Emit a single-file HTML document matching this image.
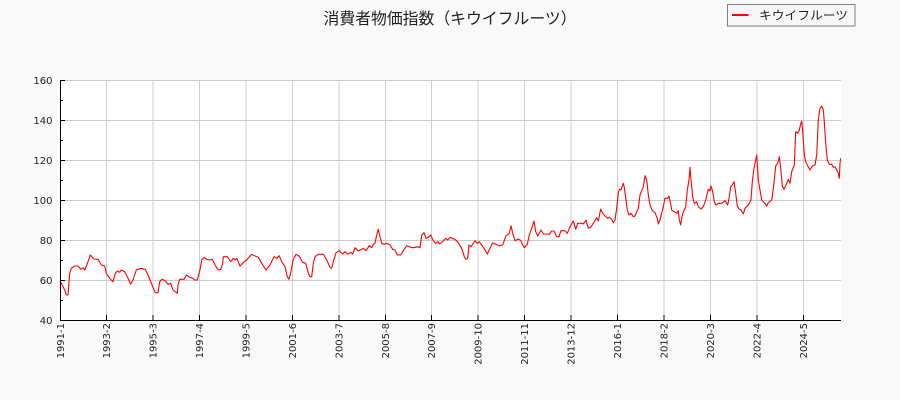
<!DOCTYPE html>
<html>
<head>
<meta charset="utf-8">
<style>
  html, body { margin: 0; padding: 0; background: #f9f9f9; }
  svg { display: block; }
  .tk { font-family: "DejaVu Sans", "Liberation Sans", sans-serif; font-size: 10px; fill: #222; }
  .ttl { font-family: "Liberation Sans", "Noto Sans CJK JP", sans-serif; font-size: 16px; fill: #222; }
  .lg { font-family: "Liberation Sans", "Noto Sans CJK JP", sans-serif; font-size: 12px; fill: #222; }
</style>
</head>
<body>
<svg width="900" height="400" viewBox="0 0 900 400" xmlns="http://www.w3.org/2000/svg">
  <rect x="0" y="0" width="900" height="400" fill="#f9f9f9"/>
  <!-- plot area -->
  <rect x="60" y="80" width="781" height="240" fill="#ffffff"/>

  <!-- horizontal gridlines -->
  <g stroke="#cccccc" stroke-width="1">
    <line x1="60" y1="80.5" x2="841" y2="80.5"/>
    <line x1="60" y1="120.5" x2="841" y2="120.5"/>
    <line x1="60" y1="160.5" x2="841" y2="160.5"/>
    <line x1="60" y1="200.5" x2="841" y2="200.5"/>
    <line x1="60" y1="240.5" x2="841" y2="240.5"/>
    <line x1="60" y1="280.5" x2="841" y2="280.5"/>
  </g>
  <!-- vertical gridlines -->
  <g stroke="#cccccc" stroke-width="1">
    <line x1="106.5" y1="80" x2="106.5" y2="320"/>
    <line x1="153" y1="80" x2="153" y2="320"/>
    <line x1="199.5" y1="80" x2="199.5" y2="320"/>
    <line x1="246" y1="80" x2="246" y2="320"/>
    <line x1="292.5" y1="80" x2="292.5" y2="320"/>
    <line x1="339" y1="80" x2="339" y2="320"/>
    <line x1="385.5" y1="80" x2="385.5" y2="320"/>
    <line x1="431.5" y1="80" x2="431.5" y2="320"/>
    <line x1="478" y1="80" x2="478" y2="320"/>
    <line x1="524.5" y1="80" x2="524.5" y2="320"/>
    <line x1="571" y1="80" x2="571" y2="320"/>
    <line x1="617.5" y1="80" x2="617.5" y2="320"/>
    <line x1="664" y1="80" x2="664" y2="320"/>
    <line x1="710.5" y1="80" x2="710.5" y2="320"/>
    <line x1="757" y1="80" x2="757" y2="320"/>
    <line x1="803.5" y1="80" x2="803.5" y2="320"/>
  </g>

  <!-- data series -->
  <polyline fill="none" stroke="#ff0000" stroke-width="1.1" stroke-linejoin="round" points="
60,281 61.3,283.3 64.7,290 66.3,295 68,295 69.7,273.3 71.3,268.3 74.7,266 78,266 80.7,269.3 83,267.7 84.7,270 88,261.7 90.3,255 94,259 98,259.3 101.3,265 104.7,266 106.3,273.3 109.7,278.3 113,281.7 115.3,273.3 117.3,271 119.7,272.3 121.3,270 124.7,271.7 128,278.3 130.7,284 133,280 136.3,270 140.7,268.3 145.3,269.3 148,275 152,285 155.3,292.7 158,292.7 159.7,281.7 162,279.3 165.3,280.7 168,284.3 170.7,283.3 173,290 177.3,293.3 178,285 179.7,279.3 184,279.3 186.3,275 189.7,277.3 193,278.3 194.7,280 197.3,280 200,270 201.7,260 204,257.3 206.7,259.3 209.3,260 212.3,259.3 215,265 218.3,270 220.7,269.3 222.7,263.3 223.3,256.7 227.3,256.7 230.7,261.7 233.3,258.3 235,260 236.7,258.3 240,266 244.3,261.7 246.7,260 250,256 251.7,254.3 255,256 258.3,257.3 261.7,263.3 266,270 270,265 274,256.7 276.7,258.3 279.3,255.7 281.7,261.7 285,266.7 287.3,276.7 289,279.3 290.7,272.7 293.3,259.3 296,254.3 299,256 302.7,262.3 305.7,263.3 308.3,273.3 310,276.7 311.7,276.7 313.3,263.3 315,256.7 318.3,254.3 323.3,254.3 326.7,260 330,267.3 331.7,268.3 333.3,261.7 336,252.7 339.3,250.7 340,251.7 342.7,254 345,251.7 347.3,254.3 350.7,252.3 352.7,254 355,247.7 358.3,251 363.3,248.3 366,250.7 369.3,245.7 371.7,247.7 373.3,244.3 375,243.3 376.7,235 378.3,229.3 380,236.7 381.7,243.3 384.3,244.3 386.7,243.3 390,245 392.7,249.3 395,250 397.3,255 400.7,255 403.3,250.7 406.7,245.7 410.7,247.3 414,247.7 417.3,246.7 420,247.7 421.7,235 424,232.7 426,238.3 428.3,237.3 430.7,235 433.3,240.7 435.7,243.3 437.7,241.7 440,244 443.3,241 445.7,238.3 447.7,240 450,237.3 452.3,238.3 455,239.3 458.3,242.7 460.7,246.7 462.3,250 464.3,256.7 466,259.3 467.7,258.3 469,245 471,246.7 472.7,244.3 475,240.7 477.3,243.3 479.3,241.7 481.7,245 484,248.3 487.3,254 490,248.3 492.7,242.7 496,244.3 499.3,245.7 502.7,245 506,235.7 509,234 511,225.7 512.7,233.3 515,240.7 518.3,239 521,240.7 522.3,244.3 524.3,247.7 527.3,244.3 529.3,235 531.7,228.3 534,221 535.7,231.7 537.7,236 541,230 543.3,234 546.7,234 549.3,234.3 551.7,231 554,231 556.7,236.7 559,236.7 561,230.7 565,230.7 567.3,233.3 570,226.7 573.3,221 575.7,229.3 577.7,223.3 581.7,223.3 583.3,224 586,220 588.3,228.3 590.7,227.3 593.3,223.3 596.7,217.7 598.3,221 600.7,209 602.7,213.3 605,216 607.7,218.3 609.3,217.3 611.7,219.3 613.3,222.7 615,220 616.7,208.3 618.3,193.3 619.3,189.3 621,190 623.3,183.3 624.3,187.3 626,200 627.3,210 629,215 631,213.3 633.3,216.7 635,216 636.7,211.7 638.3,208.3 640,195 641.7,190.7 643.3,186.7 645,175.7 646.7,180 648.3,195 650,205 652.3,210.7 655,212.7 657.3,218.3 658.3,224 660,220 661.7,213.3 663.3,206.7 665,198.3 667.7,198.3 669,196 670.3,201.7 671.7,210 674.3,211.7 676.7,213.3 678.3,210.7 679.3,220 680.7,225 681.7,218.3 683.3,211.7 685.7,206.7 687.3,190 689,180 690,167.3 691,180 692.7,196.7 694.3,203.3 696.7,201.7 698.3,206.7 701,209 703.3,206.7 705.7,200 708.3,189.3 710,190.7 711,186 712.7,191.7 714.3,201.7 716,205 718.3,203.3 721.7,203.3 725,200.7 727.7,205 729.3,196.7 730.7,186.7 732.3,185 734,181.7 735.7,193.3 737.3,206 739,209 741,210 743.3,214 745,208.3 748.3,205 751,200 752.3,181.7 754,168.3 755.7,160 756.7,155 758.3,180 760,190 761.7,200 764.3,202.7 766.7,206 768.3,202.7 771.7,200 772.7,193.3 774.3,180 775.7,166 777.7,163.3 779.3,156.7 780.7,168.3 782.3,186 784,189.3 786.7,183.3 788.3,179.3 790,183.3 791.7,171.7 794.3,165 795.7,131.7 797.7,133.3 799.3,130 801,122.7 801.7,121 802.7,131.7 804.3,155 805.7,161.7 807.7,166 810,170 812.3,166 815,165 816.7,155 818.3,120 820,108.3 821.7,106 823.3,110 824.3,121.7 825.7,143.3 827.3,160 829.3,164.3 831.7,164.3 833.3,167.3 835,166.7 836.7,170 838.3,173.3 839.3,178.3 840,163.3 840.6,158.3"/>

  <!-- axes spines -->
  <g stroke="#000" stroke-width="1">
    <line x1="60.5" y1="80" x2="60.5" y2="321"/>
    <line x1="60" y1="320.5" x2="841" y2="320.5"/>
  </g>
  <!-- y ticks (inward) -->
  <g stroke="#000" stroke-width="1">
    <line x1="60" y1="80.5" x2="65" y2="80.5"/>
    <line x1="60" y1="120.5" x2="65" y2="120.5"/>
    <line x1="60" y1="160.5" x2="65" y2="160.5"/>
    <line x1="60" y1="200.5" x2="65" y2="200.5"/>
    <line x1="60" y1="240.5" x2="65" y2="240.5"/>
    <line x1="60" y1="280.5" x2="65" y2="280.5"/>
    <line x1="60" y1="100.5" x2="63" y2="100.5"/>
    <line x1="60" y1="140.5" x2="63" y2="140.5"/>
    <line x1="60" y1="180.5" x2="63" y2="180.5"/>
    <line x1="60" y1="220.5" x2="63" y2="220.5"/>
    <line x1="60" y1="260.5" x2="63" y2="260.5"/>
    <line x1="60" y1="300.5" x2="63" y2="300.5"/>
  </g>
  <!-- x ticks (inward) -->
  <g stroke="#000" stroke-width="1">
    <line x1="106.5" y1="315" x2="106.5" y2="320"/>
    <line x1="153" y1="315" x2="153" y2="320"/>
    <line x1="199.5" y1="315" x2="199.5" y2="320"/>
    <line x1="246" y1="315" x2="246" y2="320"/>
    <line x1="292.5" y1="315" x2="292.5" y2="320"/>
    <line x1="339" y1="315" x2="339" y2="320"/>
    <line x1="385.5" y1="315" x2="385.5" y2="320"/>
    <line x1="431.5" y1="315" x2="431.5" y2="320"/>
    <line x1="478" y1="315" x2="478" y2="320"/>
    <line x1="524.5" y1="315" x2="524.5" y2="320"/>
    <line x1="571" y1="315" x2="571" y2="320"/>
    <line x1="617.5" y1="315" x2="617.5" y2="320"/>
    <line x1="664" y1="315" x2="664" y2="320"/>
    <line x1="710.5" y1="315" x2="710.5" y2="320"/>
    <line x1="757" y1="315" x2="757" y2="320"/>
    <line x1="803.5" y1="315" x2="803.5" y2="320"/>
  </g>

  <!-- y tick labels -->
  <g class="tk" text-anchor="end">
    <text x="52.5" y="84">160</text>
    <text x="52.5" y="124">140</text>
    <text x="52.5" y="164">120</text>
    <text x="52.5" y="204">100</text>
    <text x="52.5" y="244">80</text>
    <text x="52.5" y="284">60</text>
    <text x="52.5" y="324">40</text>
  </g>

  <!-- x tick labels (rotated) -->
  <g class="tk" text-anchor="end">
    <text transform="translate(64,323) rotate(-90)">1991-1</text>
    <text transform="translate(110.2,323) rotate(-90)">1993-2</text>
    <text transform="translate(156.7,323) rotate(-90)">1995-3</text>
    <text transform="translate(203.2,323) rotate(-90)">1997-4</text>
    <text transform="translate(249.7,323) rotate(-90)">1999-5</text>
    <text transform="translate(296.2,323) rotate(-90)">2001-6</text>
    <text transform="translate(342.7,323) rotate(-90)">2003-7</text>
    <text transform="translate(389.2,323) rotate(-90)">2005-8</text>
    <text transform="translate(435.2,323) rotate(-90)">2007-9</text>
    <text transform="translate(481.7,323) rotate(-90)">2009-10</text>
    <text transform="translate(528.2,323) rotate(-90)">2011-11</text>
    <text transform="translate(574.7,323) rotate(-90)">2013-12</text>
    <text transform="translate(621.2,323) rotate(-90)">2016-1</text>
    <text transform="translate(667.7,323) rotate(-90)">2018-2</text>
    <text transform="translate(714.2,323) rotate(-90)">2020-3</text>
    <text transform="translate(760.7,323) rotate(-90)">2022-4</text>
    <text transform="translate(807.2,323) rotate(-90)">2024-5</text>
  </g>

  <!-- title -->
  <text class="ttl" x="450" y="24" text-anchor="middle" textLength="253" lengthAdjust="spacingAndGlyphs">消費者物価指数（キウイフルーツ）</text>

  <!-- legend -->
  <rect x="727.5" y="4.5" width="127.5" height="21.5" fill="#f7f7f7" stroke="#808080" stroke-width="1"/>
  <line x1="732" y1="15" x2="748.5" y2="15" stroke="#ff0000" stroke-width="2"/>
  <text class="lg" x="759" y="19.5" textLength="89" lengthAdjust="spacingAndGlyphs">キウイフルーツ</text>
</svg>
</body>
</html>
